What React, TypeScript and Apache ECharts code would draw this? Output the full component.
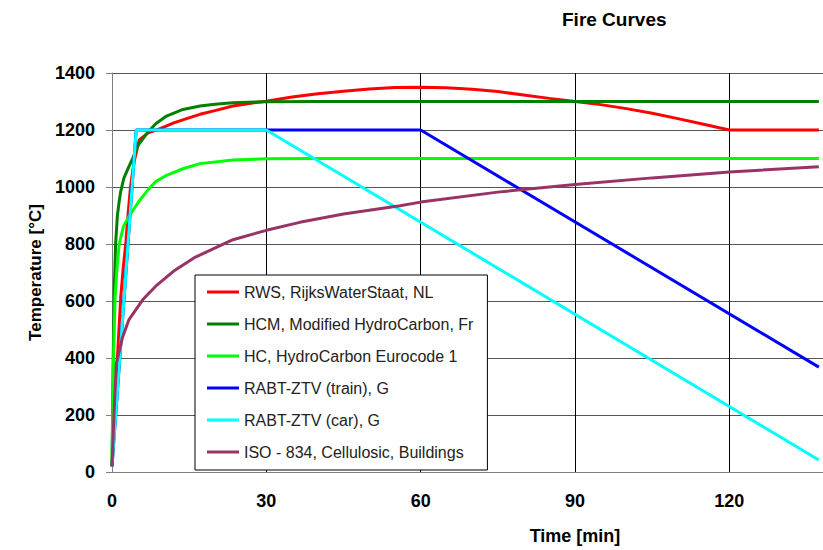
import React, { useEffect, useRef } from "react";
import * as echarts from "echarts";

const seriesNames = [
  "RWS, RijksWaterStaat, NL",
  "HCM, Modified HydroCarbon, Fr",
  "HC, HydroCarbon Eurocode 1",
  "RABT-ZTV (train), G",
  "RABT-ZTV (car), G",
  "ISO - 834, Cellulosic, Buildings",
];
const seriesColors = ["#FF0000", "#008000", "#00FF00", "#0000FF", "#00FFFF", "#993366"];

const xTicks = [0, 30, 60, 90, 120, 150, 180];
const yTicks = [0, 200, 400, 600, 800, 1000, 1200, 1400];
const visibleXMax = 137;

const rws: number[][] = [
  [0, 20], [0.5, 200], [1.05, 400], [1.7, 614], [2.2, 720], [2.67, 800], [3.1, 900],
  [3.6, 1000], [4.3, 1090], [5.3, 1165], [7, 1190], [9, 1202], [12, 1225], [14.5, 1240],
  [17.1, 1255], [20, 1268], [23.5, 1284], [27, 1294], [30, 1301], [35, 1316], [40, 1327],
  [45, 1336], [50, 1344], [55, 1349], [60, 1350], [65, 1348], [70, 1343], [75, 1335],
  [80, 1323], [85, 1311], [90, 1300], [95, 1289], [100, 1275], [105, 1259], [110, 1240],
  [115, 1220], [120, 1200], [137.4, 1200],
];
const hcm: number[][] = [
  [0, 20], [0.2, 350], [0.4, 614], [0.7, 800], [1.05, 900], [1.4, 950], [1.7, 985],
  [2.3, 1030], [3, 1060], [4, 1100], [5.2, 1150], [7.1, 1195], [8.5, 1222], [10.6, 1249],
  [13.8, 1272], [17.1, 1284], [20, 1290], [23.5, 1296], [30, 1299], [40, 1300], [137.4, 1300],
];
const hc: number[][] = [
  [0, 20], [0.3, 400], [0.6, 614], [1, 720], [1.4, 800], [2.2, 860], [3.3, 898],
  [5.25, 950], [7, 990], [8.5, 1019], [10.6, 1041], [13.8, 1064], [17.1, 1082],
  [23.5, 1095], [30, 1099], [40, 1100], [137.4, 1100],
];
const train: number[][] = [[0, 20], [4.7, 1200], [60, 1200], [137.4, 368]];
const car: number[][] = [[0, 20], [4.7, 1200], [30, 1200], [137.4, 42]];
const iso: number[][] = [
  [0, 20], [0.4, 209], [0.85, 380], [2, 470], [3.3, 535], [6, 605], [8.5, 652], [12, 705],
  [16, 752], [23.5, 815], [30, 848], [36.5, 876], [45, 905], [56, 934], [60, 947],
  [75, 982], [90, 1009], [105, 1032], [120, 1053], [137.4, 1071],
];
const seriesData = [rws, hcm, hc, train, car, iso];

const FONT = "Liberation Sans, Arial, sans-serif";

export default function App() {
  const ref = useRef<HTMLDivElement>(null);
  useEffect(() => {
    if (!ref.current) return;
    const chart = echarts.init(ref.current, null, { renderer: "svg" });
    chart.setOption({
      animation: false,
      backgroundColor: "#ffffff",
      title: {
        text: "Fire Curves",
        left: 557,
        top: 5,
        textStyle: { fontSize: 19, fontWeight: "bold", fontFamily: FONT, color: "#000" },
      },
      grid: { left: 112, right: 8, top: 73, bottom: 73, containLabel: false },
      legend: {
        orient: "vertical",
        left: 195,
        top: 275,
        padding: [9, 14, 10, 12],
        itemGap: 16,
        itemWidth: 32,
        itemHeight: 3,
        icon: "rect",
        backgroundColor: "#ffffff",
        borderColor: "#000000",
        borderWidth: 1,
        borderRadius: 0,
        textStyle: { fontSize: 16, fontFamily: FONT, color: "#222", lineHeight: 16 },
        data: seriesNames,
      },
      xAxis: {
        type: "value",
        min: xTicks[0],
        max: xTicks[xTicks.length - 1],
        interval: 30,
        name: "Time [min]",
        nameLocation: "middle",
        nameGap: 55,
        nameTextStyle: { fontSize: 18, fontWeight: "bold", fontFamily: FONT, color: "#000" },
        axisLine: { show: true, lineStyle: { color: "#808080", width: 1 } },
        axisTick: { show: false },
        axisLabel: {
          fontSize: 18,
          fontWeight: "bold",
          fontFamily: FONT,
          color: "#000",
          margin: 20,
          formatter: (v: number) => (v > visibleXMax ? "" : String(v)),
        },
        splitLine: { show: true, lineStyle: { color: "#000", width: 1 } },
      },
      yAxis: {
        type: "value",
        min: yTicks[0],
        max: yTicks[yTicks.length - 1],
        interval: 200,
        name: "Temperature [°C]",
        nameLocation: "middle",
        nameGap: 67,
        nameRotate: 90,
        nameTextStyle: { fontSize: 17, fontWeight: "bold", fontFamily: FONT, color: "#000" },
        axisLine: { show: true, lineStyle: { color: "#808080", width: 1 } },
        axisTick: { show: true, inside: false, length: 6, lineStyle: { color: "#808080" } },
        axisLabel: {
          fontSize: 18,
          fontWeight: "bold",
          fontFamily: FONT,
          color: "#000",
          margin: 17,
          formatter: (v: number) => String(v),
        },
        splitLine: { show: true, lineStyle: { color: "#555", width: 1 } },
      },
      series: seriesNames.map((name, i) => ({
        name,
        type: "line",
        data: seriesData[i],
        showSymbol: false,
        symbol: "none",
        smooth: false,
        clip: true,
        color: seriesColors[i],
        lineStyle: { color: seriesColors[i], width: 3 },
      })),
    });
    return () => chart.dispose();
  }, []);
  return (
    <div
      ref={ref}
      style={{ position: "fixed", left: 0, top: 0, width: 1046, height: 550 }}
    />
  );
}
